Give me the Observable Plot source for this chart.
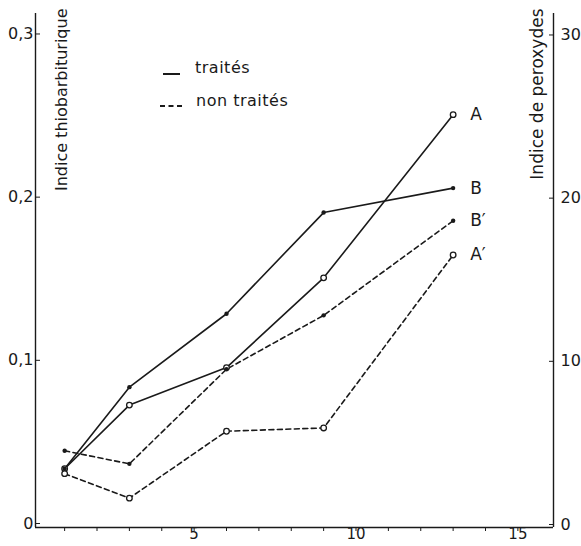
<!DOCTYPE html>
<html><head><meta charset="utf-8">
<script src="https://cdn.jsdelivr.net/npm/d3@7"></script>
<script src="https://cdn.jsdelivr.net/npm/@observablehq/plot@0.6"></script>
<style>
body{margin:0;background:#fff;font-family:"DejaVu Sans",sans-serif}
#wrap{position:relative;width:581px;height:546px}
#legend{position:absolute;left:0;top:0;pointer-events:none}
</style></head><body><div id="wrap"></div>
<script>
// Data
const days = [1, 3, 6, 9, 13];
const seriesA  = [0.036, 0.075, 0.098, 0.153, 0.253];
const seriesB  = [0.036, 0.086, 0.131, 0.193, 0.208];
const seriesB2 = [0.047, 0.039, 0.097, 0.130, 0.188];
const seriesA2 = [0.033, 0.018, 0.059, 0.061, 0.167];
const seriesNames = ["A", "B", "B′", "A′"];
const seriesTreated = [true, true, false, false];
const seriesOpenMarker = [true, false, false, true];
const leftTicks = [0, 0.1, 0.2, 0.3];
const xLabelTicks = [5, 10, 15];
const xMinorTicks = [1,2,3,4,5,6,7,8,9,10,11,12,13,14,15];
const xDomain = [0.1, 16.1];
const yDomain = [0, 0.315];
const legendLabels = ["traités", "non traités"];
const leftTitle = "Indice thiobarbiturique";
const rightTitle = "Indice de peroxydes";

const allValues = [seriesA, seriesB, seriesB2, seriesA2];
const rows = [];
allValues.forEach((vals, s) => {
  days.forEach((d, i) => rows.push({
    series: seriesNames[s], treated: seriesTreated[s], open: seriesOpenMarker[s],
    day: d, value: vals[i], last: i === days.length - 1
  }));
});

const ink = "#1a1a1a";
const fmtLeft = d => d === 0 ? "0" : String(d).replace(".", ",");
const fmtRight = d => String(Math.round(d * 100));

const chart = Plot.plot({
  width: 581, height: 546,
  marginLeft: 35, marginRight: 28, marginTop: 13, marginBottom: 19,
  style: {fontFamily: "DejaVu Sans, sans-serif", color: ink, background: "white"},
  x: {domain: xDomain},
  y: {domain: yDomain},
  marks: [
    Plot.ruleX(xDomain, {stroke: ink, strokeWidth: 1.4}),
    Plot.ruleY([0], {stroke: ink, strokeWidth: 1.4}),
    Plot.axisY(leftTicks, {anchor: "left", tickSize: -5, tickPadding: 7, tickFormat: fmtLeft, fontSize: 16, dy: -4, label: null, stroke: ink}),
    Plot.axisY(leftTicks, {anchor: "right", tickSize: -5, tickPadding: 12, tickFormat: fmtRight, fontSize: 16, dy: -3, label: null, stroke: ink}),
    Plot.axisX(xMinorTicks, {tickSize: 4, tickFormat: () => "", label: null, stroke: ink}),
    Plot.axisX(xLabelTicks, {tickSize: 0, tickPadding: 1, fontSize: 15, label: null}),
    Plot.line(rows.filter(d => d.treated), {x: "day", y: "value", z: "series", stroke: ink, strokeWidth: 1.6}),
    Plot.line(rows.filter(d => !d.treated), {x: "day", y: "value", z: "series", stroke: ink, strokeWidth: 1.6, strokeDasharray: "5,3.5"}),
    Plot.dot(rows.filter(d => d.open), {x: "day", y: "value", r: 2.8, fill: "white", stroke: ink, strokeWidth: 1.3}),
    Plot.dot(rows.filter(d => !d.open), {x: "day", y: "value", r: 2.2, fill: ink}),
    Plot.text(rows.filter(d => d.last), {x: "day", y: "value", text: "series", textAnchor: "start", dx: 17, fontSize: 17, fill: ink}),
    Plot.text([leftTitle], {frameAnchor: "top-left", text: d => d, rotate: -90, textAnchor: "end", dx: 20, dy: -5, fontSize: 16, fill: ink, letterSpacing: 1.5}),
    Plot.text([rightTitle], {frameAnchor: "top-right", text: d => d, rotate: -90, textAnchor: "end", dx: -23, dy: -5, fontSize: 17, fill: ink, letterSpacing: 1.5})
  ]
});
const wrap = document.getElementById("wrap");
wrap.appendChild(chart);

// Legend overlay
const ns = "http://www.w3.org/2000/svg";
const lg = document.createElementNS(ns, "svg");
lg.setAttribute("id", "legend");
lg.setAttribute("width", 581); lg.setAttribute("height", 546);
const items = [
  {label: legendLabels[0], dash: null, x1: 163, x2: 180, ly: 74, tx: 195, ty: 73},
  {label: legendLabels[1], dash: "5,3.5", x1: 160, x2: 182, ly: 106, tx: 196, ty: 106}
];
items.forEach(it => {
  const l = document.createElementNS(ns, "line");
  l.setAttribute("x1", it.x1); l.setAttribute("x2", it.x2);
  l.setAttribute("y1", it.ly); l.setAttribute("y2", it.ly);
  l.setAttribute("stroke", ink); l.setAttribute("stroke-width", 2);
  if (it.dash) l.setAttribute("stroke-dasharray", it.dash);
  lg.appendChild(l);
  const t = document.createElementNS(ns, "text");
  t.setAttribute("x", it.tx); t.setAttribute("y", it.ty);
  t.setAttribute("font-size", 16); t.setAttribute("fill", ink);
  t.setAttribute("font-family", "DejaVu Sans, sans-serif");
  t.setAttribute("letter-spacing", "0.5");
  t.textContent = it.label;
  lg.appendChild(t);
});
wrap.appendChild(lg);
</script></body></html>
